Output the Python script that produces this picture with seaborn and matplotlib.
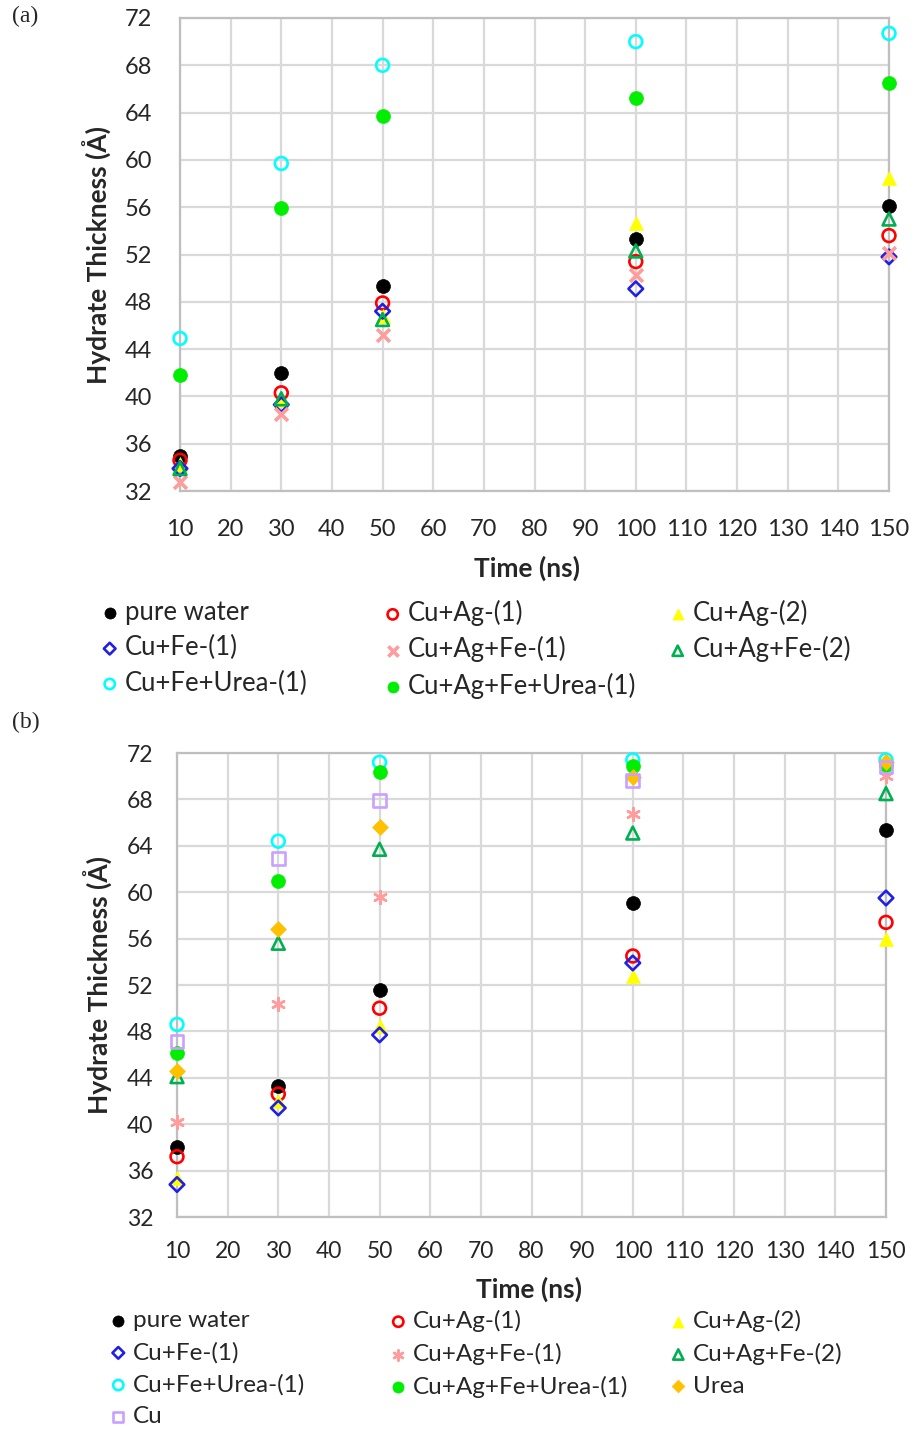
import numpy as np
import pandas as pd
import matplotlib
matplotlib.use("Agg")
import matplotlib.pyplot as plt
import matplotlib.ticker as mticker
import seaborn as sns

sns.set_theme(style="white")
plt.rcParams["font.family"] = ["Lato", "DejaVu Sans"]

# ── Data ────────────────────────────────────────────────────────────────────
time_ns = [10, 30, 50, 100, 150]

# panel (a)
a_pure_water = [35.0, 42.0, 49.3, 53.3, 56.1]
a_cu_ag_1 = [34.6, 40.3, 47.9, 51.4, 53.6]
a_cu_ag_2 = [34.3, 39.7, 46.8, 54.7, 58.5]
a_cu_fe_1 = [33.9, 39.3, 47.2, 49.1, 51.8]
a_cu_ag_fe_1 = [32.8, 38.5, 45.2, 50.3, 52.1]
a_cu_ag_fe_2 = [33.9, 39.8, 46.5, 52.3, 55.0]
a_cu_fe_urea_1 = [44.9, 59.7, 68.0, 70.0, 70.7]
a_cu_ag_fe_urea_1 = [41.8, 55.9, 63.7, 65.2, 66.5]

# panel (b)
b_pure_water = [38.0, 43.3, 51.6, 59.1, 65.4]
b_cu_ag_1 = [37.2, 42.6, 50.0, 54.5, 57.4]
b_cu_ag_2 = [35.4, 42.0, 48.5, 52.8, 56.0]
b_cu_fe_1 = [34.8, 41.4, 47.7, 53.9, 59.5]
b_cu_ag_fe_1 = [40.2, 50.4, 59.6, 66.7, 70.0]
b_cu_ag_fe_2 = [44.1, 55.6, 63.7, 65.1, 68.5]
b_cu_fe_urea_1 = [48.6, 64.4, 71.2, 71.4, 71.4]
b_cu_ag_fe_urea_1 = [46.1, 61.0, 70.4, 70.9, 71.0]
b_urea = [44.6, 56.8, 65.6, 69.9, 71.2]
b_cu = [47.1, 62.9, 67.9, 69.6, 70.8]

# ── Styles ──────────────────────────────────────────────────────────────────
styles = {
    "pure water": dict(marker="o", color="#000000", filled=True),
    "Cu+Ag-(1)": dict(marker="o", color="#FF0000", filled=False),
    "Cu+Ag-(2)": dict(marker="^", color="#FFFF00", filled=True),
    "Cu+Fe-(1)": dict(marker="D", color="#1F1FE6", filled=False),
    "Cu+Ag+Fe-(1)": dict(marker="x", color="#FF9C9C", filled=False),
    "Cu+Ag+Fe-(2)": dict(marker="^", color="#00B050", filled=False),
    "Cu+Fe+Urea-(1)": dict(marker="o", color="#00FFFF", filled=False),
    "Cu+Ag+Fe+Urea-(1)": dict(marker="o", color="#00EE00", filled=True),
    "Urea": dict(marker="D", color="#FFC000", filled=True),
    "Cu": dict(marker="s", color="#C9A0FF", filled=False),
}

panel_a = {
    "pure water": a_pure_water, "Cu+Ag-(1)": a_cu_ag_1, "Cu+Ag-(2)": a_cu_ag_2,
    "Cu+Fe-(1)": a_cu_fe_1, "Cu+Ag+Fe-(1)": a_cu_ag_fe_1,
    "Cu+Ag+Fe-(2)": a_cu_ag_fe_2, "Cu+Fe+Urea-(1)": a_cu_fe_urea_1,
    "Cu+Ag+Fe+Urea-(1)": a_cu_ag_fe_urea_1,
}
panel_b = {
    "pure water": b_pure_water, "Cu+Ag-(1)": b_cu_ag_1, "Cu+Ag-(2)": b_cu_ag_2,
    "Cu+Fe-(1)": b_cu_fe_1, "Cu+Ag+Fe-(1)": b_cu_ag_fe_1,
    "Cu+Ag+Fe-(2)": b_cu_ag_fe_2, "Cu+Fe+Urea-(1)": b_cu_fe_urea_1,
    "Cu+Ag+Fe+Urea-(1)": b_cu_ag_fe_urea_1, "Urea": b_urea, "Cu": b_cu,
}

GRID = "#D9D9D9"
AXIS = "#BFBFBF"


def draw_panel(ax, series, pink_marker, pink_lw):
    for name, vals in series.items():
        st = styles[name]
        marker = pink_marker if name == "Cu+Ag+Fe-(1)" else st["marker"]
        df = pd.DataFrame({"time": time_ns, "thick": vals})
        kw = dict(marker=marker, s=100, label=name, legend=False, zorder=3,
                  clip_on=False)
        if marker in ("x",) or isinstance(marker, tuple):
            kw.update(color=st["color"], linewidth=pink_lw, s=85)
        elif st["filled"]:
            kw.update(color=st["color"], edgecolor=st["color"], linewidth=0.5)
        else:
            kw.update(color=st["color"], facecolors="none",
                      edgecolor=st["color"], linewidth=1.9, s=85)
        if marker == "D":
            kw["s"] = kw["s"] * 0.65
        sns.scatterplot(data=df, x="time", y="thick", ax=ax, **kw)

    ax.set_xlim(10, 150)
    ax.set_ylim(32, 72)
    ax.xaxis.set_major_locator(mticker.MultipleLocator(10))
    ax.yaxis.set_major_locator(mticker.MultipleLocator(4))
    ax.grid(True, color=GRID, linewidth=1.6, zorder=0)
    ax.set_axisbelow(True)
    for sp in ax.spines.values():
        sp.set_color(AXIS)
        sp.set_linewidth(1.6)
    ax.set_xlabel("Time (ns)", fontsize=19, fontweight="bold")
    ax.set_ylabel("Hydrate Thickness (Å)", fontsize=19, fontweight="bold")


fig = plt.figure(figsize=(9.15, 14.3), dpi=100)
ax_a = fig.add_axes([180 / 915, 1 - 491 / 1430, 709 / 915, 473 / 1430])
ax_b = fig.add_axes([177 / 915, 1 - 1217 / 1430, 709 / 915, 464 / 1430])

draw_panel(ax_a, panel_a, "x", 2.6)
draw_panel(ax_b, panel_b, (6, 2, 0), 1.8)

ax_a.tick_params(axis="both", length=0, labelsize=17, pad=20, colors="#262626")
ax_b.tick_params(axis="both", length=0, labelsize=16.5, pad=17, colors="#262626")
ax_a.yaxis.set_label_coords(-0.096, 0.5)
ax_a.xaxis.set_label_coords(0.489, -0.137)
ax_b.yaxis.set_label_coords(-0.090, 0.5)
ax_b.xaxis.set_label_coords(0.496, -0.129)

fig.text(12 / 915, 1 - 16 / 1430, "(a)", family="Liberation Serif",
         fontsize=17, va="center", ha="left")
fig.text(12 / 915, 1 - 722 / 1430, "(b)", family="Liberation Serif",
         fontsize=17, va="center", ha="left")


def row_legends(ax, col_x, top_y, fontsize, spacing):
    handles, labels = ax.get_legend_handles_labels()
    lookup = dict(zip(labels, handles))
    cols = [labels[0::3], labels[1::3], labels[2::3]]
    for x, names in zip(col_x, cols):
        if not names:
            continue
        fig.legend([lookup[n] for n in names], names, loc="upper left",
                   bbox_to_anchor=(x / 915, 1 - top_y / 1430),
                   frameon=False, fontsize=fontsize, handlelength=0.6,
                   handletextpad=0.3, borderpad=0, borderaxespad=0,
                   labelspacing=spacing, markerscale=0.8)


row_legends(ax_a, [102, 385, 670], 600, 18.5, 0.4)
row_legends(ax_b, [111, 391, 671], 1310, 17.5, 0.44)

plt.savefig("out.png", dpi=100)
